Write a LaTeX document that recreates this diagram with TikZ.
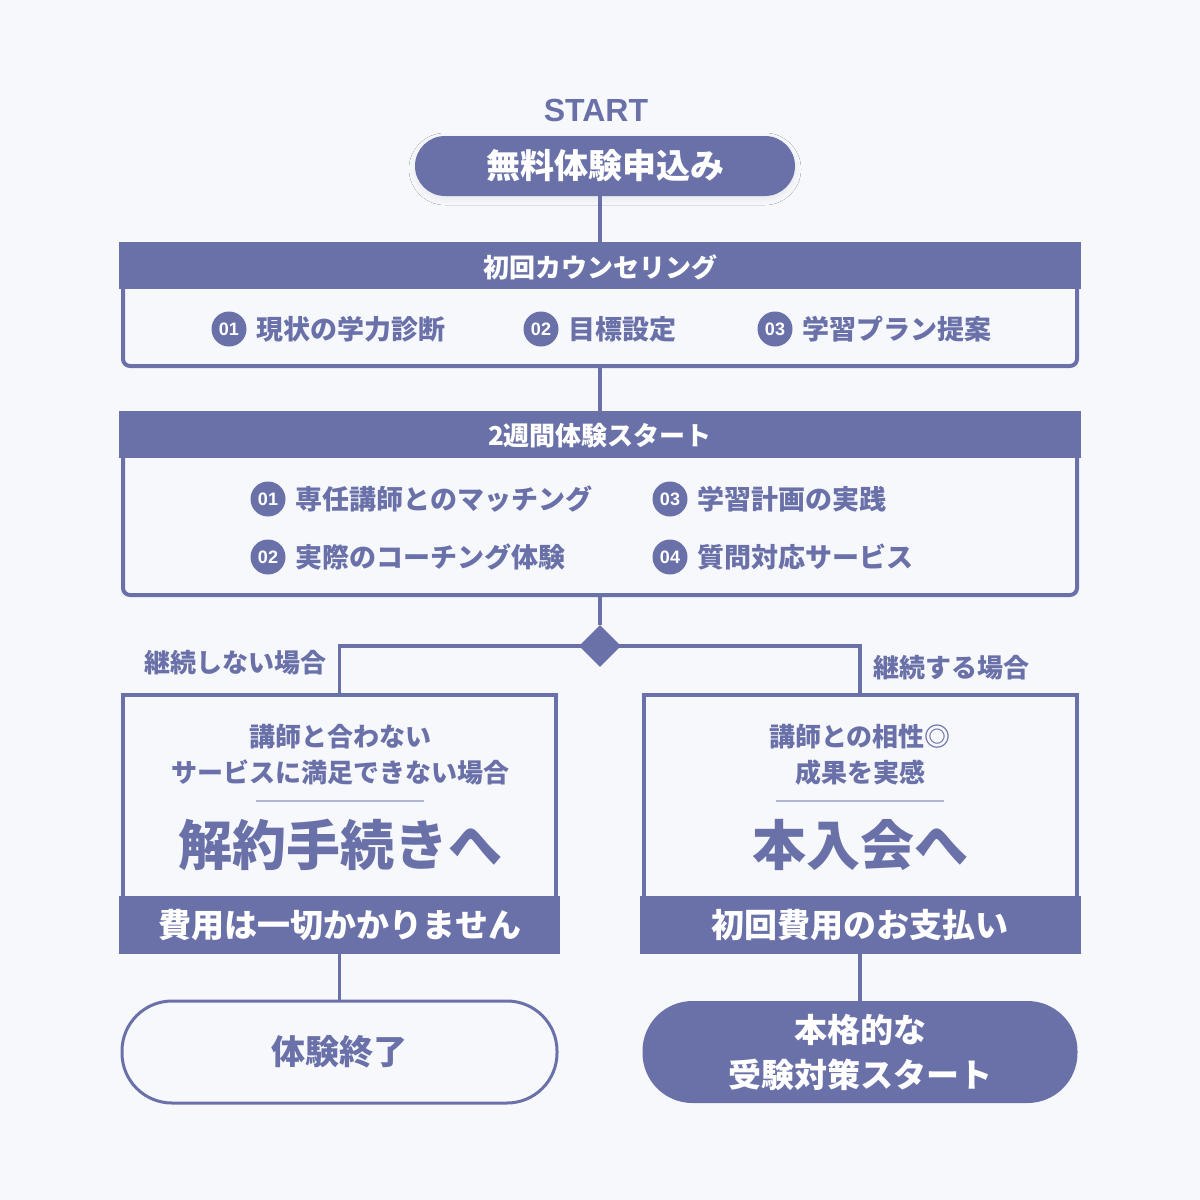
\documentclass[tikz,border=0pt]{standalone}
\usepackage{fontspec}
\setmainfont{Noto Sans CJK JP}
\newfontfamily\latinfont{Liberation Sans}
\usetikzlibrary{positioning,shapes.geometric,shadows.blur}
\definecolor{flowblue}{HTML}{6A71A9}
\definecolor{paleblue}{HTML}{F7F8FC}
\definecolor{rulegray}{HTML}{B0B5D3}
\newcommand{\pxfont}[1]{\fontsize{#1}{#1}\selectfont}

\begin{document}
\begin{tikzpicture}[x=1pt, y=-1pt,
    box/.style={draw=flowblue, line width=4pt, inner sep=0pt},
    headtext/.style={text=white, font=\bfseries\pxfont{26}},
    itemtext/.style={text=flowblue, font=\bfseries\pxfont{27}, inner sep=0pt},
    badge/.style={circle, fill=flowblue, text=white, font=\latinfont\bfseries\pxfont{18}, minimum size=35pt, inner sep=0pt},
    link/.style={draw=flowblue, line width=3.5pt},
    pill/.style={rounded corners=50pt, minimum width=435pt, minimum height=102pt, inner sep=0pt}]
    \fill[paleblue] (0,0) rectangle (1200,1200);
    \useasboundingbox (0,0) rectangle (1200,1200);

    % start
    \node[text=flowblue, font=\latinfont\bfseries\pxfont{32}] (start) at (596,110) {START};
    \node[pill, fill=flowblue, rounded corners=30pt, minimum width=380pt, minimum height=60pt,
      blur shadow={shadow xshift=0pt, shadow yshift=-3pt, shadow blur radius=6pt, shadow opacity=6},
      text=white, font=\bfseries\pxfont{34}] (apply) at (605,166) {無料体験申込み};

    % counseling
    \node[box, rounded corners=7pt, minimum width=954pt, minimum height=120pt] (counsel) at (600,306) {};
    \fill[flowblue] ([xshift=-2pt,yshift=2pt]counsel.north west) rectangle ([xshift=2pt,yshift=-45pt]counsel.north east);
    \node[headtext] (counselhead) at (600,267) {初回カウンセリング};
    \foreach \n/\x/\t in {01/229/現状の学力診断, 02/541/目標設定, 03/775/学習プラン提案}{
      \node[badge] (cb\n) at (\x,329) {\n};
      \node[itemtext, right=10pt of cb\n] (ct\n) {\t};
    }

    % two week trial
    \node[box, rounded corners=7pt, minimum width=954pt, minimum height=180pt] (trial) at (600,505) {};
    \fill[flowblue] ([xshift=-2pt,yshift=2pt]trial.north west) rectangle ([xshift=2pt,yshift=-45pt]trial.north east);
    \node[headtext] (trialhead) at (600,436) {2週間体験スタート};
    \foreach \n/\x/\y/\t in {01/268/499/専任講師とのマッチング, 02/268/557/実際のコーチング体験,
      03/670/499/学習計画の実践, 04/670/557/質問対応サービス}{
      \node[badge] (tb\n) at (\x,\y) {\n};
      \node[itemtext, right=10pt of tb\n] (tt\n) {\t};
    }

    % branch
    \node[diamond, fill=flowblue, minimum width=42pt, minimum height=42pt, inner sep=0pt] (fork) at (600,646) {};
    \node[itemtext, font=\bfseries\pxfont{26}, anchor=east] (quitlabel) at (327,663) {継続しない場合};
    \node[itemtext, font=\bfseries\pxfont{26}, anchor=west] (joinlabel) at (873,668) {継続する場合};

    % quit side
    \node[box, minimum width=433pt, minimum height=255pt] (quitbox) at (339.5,822.5) {};
    \fill[flowblue] ([xshift=-2pt,yshift=-2pt]quitbox.south west) rectangle ([xshift=2pt,yshift=56pt]quitbox.south east);
    \node[itemtext, align=center, font=\bfseries\fontsize{26}{36}\selectfont] (quitwhy) at (340,755) {講師と合わない\\サービスに満足できない場合};
    \draw[rulegray, line width=2pt] (256,801) -- (424,801);
    \node[itemtext, font=\bfseries\pxfont{54}] (quitgo) at (340,845) {解約手続きへ};
    \node[headtext, font=\bfseries\pxfont{33}] (quitfee) at (340,925) {費用は一切かかりません};
    \node[pill, draw=flowblue, line width=3pt, text=flowblue, font=\bfseries\pxfont{34}] (endpill) at (339.5,1052) {体験終了};

    % join side
    \node[box, minimum width=433pt, minimum height=255pt] (joinbox) at (860,822.5) {};
    \fill[flowblue] ([xshift=-2pt,yshift=-2pt]joinbox.south west) rectangle ([xshift=2pt,yshift=56pt]joinbox.south east);
    \node[itemtext, align=center, font=\bfseries\fontsize{26}{36}\selectfont] (joinwhy) at (860,755) {講師との相性◎\\成果を実感};
    \draw[rulegray, line width=2pt] (776,801) -- (944,801);
    \node[itemtext, font=\bfseries\pxfont{54}] (joingo) at (860,845) {本入会へ};
    \node[headtext, font=\bfseries\pxfont{33}] (joinfee) at (860,925) {初回費用のお支払い};
    \node[pill, fill=flowblue, text=white, align=center, font=\bfseries\fontsize{33}{45}\selectfont] (goalpill) at (860,1052) {本格的な\\受験対策スタート};

    % connectors
    \draw[link] (counsel.north) -- (counsel.north |- apply.south);
    \draw[link] (counsel.south) -- (trial.north);
    \draw[link] (trial.south) -- (fork.north);
    \draw[link] (quitbox.north) |- (fork.center) -| (joinbox.north);
    \draw[link] (quitbox.south) -- (endpill.north);
    \draw[link] (joinbox.south) -- (goalpill.north);
  \end{tikzpicture}
\end{document}
